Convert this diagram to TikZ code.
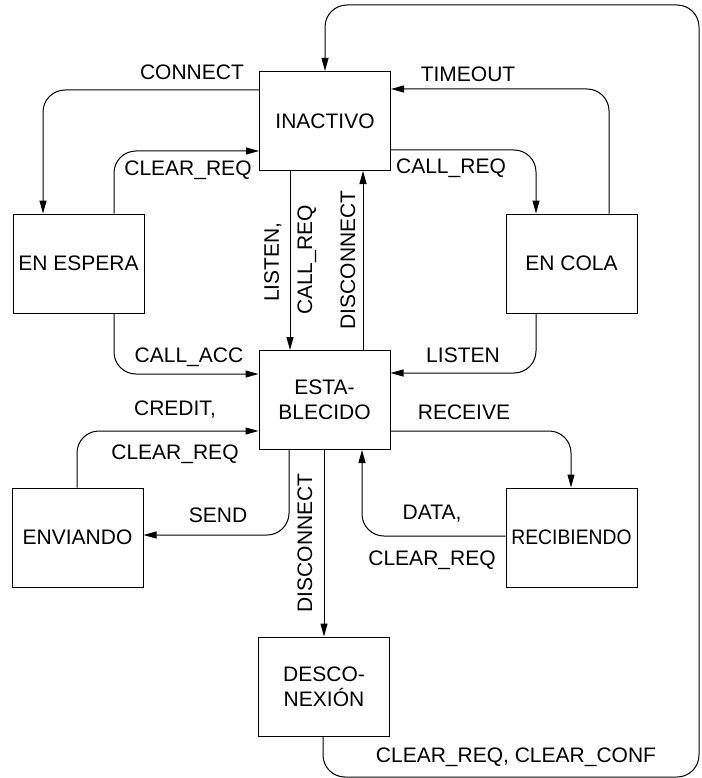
\documentclass[tikz,border=0pt]{standalone}
\usepackage{fontspec}
\setmainfont{Liberation Sans}
\usetikzlibrary{arrows.meta}
\begin{document}
\begin{tikzpicture}[x=1pt,y=-1pt,
  state/.style={draw, line width=1pt, minimum width=131pt, minimum height=99pt, inner sep=0pt, align=center, font=\fontsize{21}{25}\selectfont},
  lbl/.style={inner sep=0pt, font=\fontsize{21}{25}\selectfont},
  arr/.style={line width=1pt, rounded corners=22pt, -{Triangle[length=13pt,width=7pt]}},
  conn/.style={line width=1pt, rounded corners=22pt}]
\useasboundingbox (0,0) rectangle (701,778);
\node[state] (inact) at (325,121) {INACTIVO};
\node[state] (esp) at (78.5,263.5) {EN ESPERA};
\node[state] (cola) at (571.5,263.5) {EN COLA};
\node[state] (estab) at (324.5,400) {ESTA-\\BLECIDO};
\node[state] (env) at (77.5,537.5) {ENVIANDO};
\node[state] (rec) at (571.5,537.5) {\scalebox{0.92}[1]{RECIBIENDO}};
\node[state] (desc) at (324,686.5) {DESCO-\\NEXIÓN};
% CONNECT
\draw[arr] (inact.west |- 0,90) -| (esp.north -| 43,0);
\node[lbl] (lconnect) at (192,72) {CONNECT};
% CLEAR_REQ esp -> inact
\draw[arr] (esp.north -| 114,0) |- (inact.west |- 0,151);
\node[lbl] (lclr1) at (188,170) {CLEAR\_REQ};
% CALL_ACC
\draw[arr] (esp.south -| 114,0) |- (estab.west |- 0,374);
\node[lbl] (lcallacc) at (189,357) {CALL\_ACC};
% TIMEOUT
\draw[arr] (cola.north -| 609,0) |- (inact.east |- 0,89);
\node[lbl] (ltimeout) at (468,74) {TIMEOUT};
% CALL_REQ
\draw[arr] (inact.east |- 0,150) -| (cola.north -| 536,0);
\node[lbl] (lcallreq) at (451,168) {CALL\_REQ};
% LISTEN
\draw[arr] (cola.south -| 536,0) |- (estab.east |- 0,373);
\node[lbl] (llisten) at (463,355) {LISTEN};
% LISTEN, CALL_REQ
\draw[arr] (inact.south -| 290,0) -- (estab.north -| 290,0);
\node[lbl, rotate=90] (llisten2) at (273,262) {LISTEN,};
\node[lbl, rotate=90] (lcallreq2) at (307,260) {CALL\_REQ};
% DISCONNECT up
\draw[arr] (estab.north -| 363,0) -- (inact.south -| 363,0);
\node[lbl, rotate=90] (ldisc1) at (348,260) {DISCONNECT};
% CREDIT, CLEAR_REQ
\draw[arr] (env.north -| 77,0) |- (estab.west |- 0,431);
\node[lbl] (lcredit) at (175,410) {CREDIT,};
\node[lbl] (lclr2) at (175,454) {CLEAR\_REQ};
% SEND
\draw[arr] (estab.south -| 289,0) |- (env.east |- 0,535);
\node[lbl] (lsend) at (218,515) {SEND};
% DISCONNECT down
\draw[arr] (estab.south -| 324,0) -- (desc.north -| 324,0);
\node[lbl, rotate=90] (ldisc2) at (305,543) {DISCONNECT};
% RECEIVE
\draw[arr] (estab.east |- 0,431) -| (rec.north -| 571,0);
\node[lbl] (lreceive) at (464,412) {RECEIVE};
% DATA, CLEAR_REQ
\draw[arr] (rec.west |- 0,536) -| (estab.south -| 362,0);
\node[lbl] (ldata) at (432,514) {DATA,};
\node[lbl] (lclr3) at (432,560) {CLEAR\_REQ};
% big loop
\draw[arr] (desc.south -| 323,0) |- (699,777) |- (325,5) -- (inact.north -| 325,0);
\node[lbl] (lclrconf) at (516,757) {CLEAR\_REQ, CLEAR\_CONF};
\end{tikzpicture}
\end{document}
